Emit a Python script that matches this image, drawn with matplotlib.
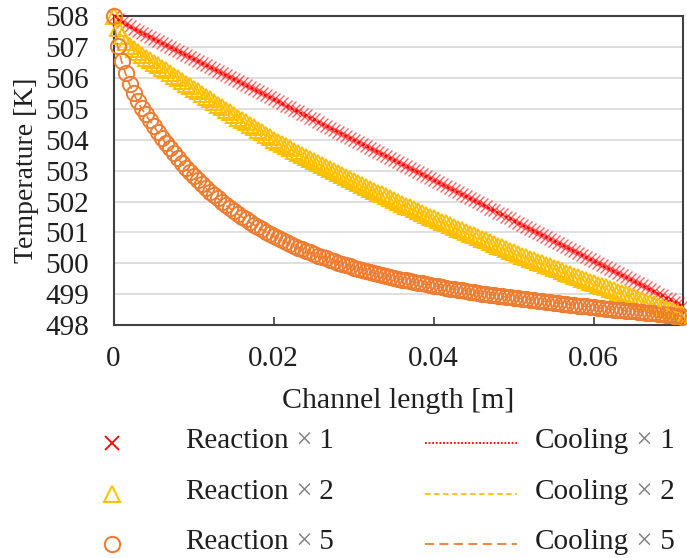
import numpy as np
import matplotlib
matplotlib.use("Agg")
import matplotlib.pyplot as plt
from matplotlib.lines import Line2D

# Axial positions along the channel [m] (uniform 0.5 mm grid, 0 .. 0.071 m)
dx = 0.0005
n_pts = 143

# Temperature profiles [K]
temp_r1 = [
    508.00, 507.90, 507.82, 507.75, 507.67, 507.60, 507.54, 507.47, 507.41, 507.34,
    507.27, 507.21, 507.14, 507.08, 507.01, 506.95, 506.88, 506.82, 506.75, 506.69,
    506.62, 506.55, 506.49, 506.42, 506.36, 506.29, 506.23, 506.16, 506.10, 506.03,
    505.97, 505.90, 505.83, 505.77, 505.70, 505.64, 505.57, 505.51, 505.44, 505.38,
    505.31, 505.25, 505.18, 505.11, 505.05, 504.98, 504.92, 504.85, 504.79, 504.72,
    504.66, 504.59, 504.52, 504.46, 504.39, 504.33, 504.26, 504.20, 504.13, 504.07,
    504.00, 503.94, 503.87, 503.80, 503.74, 503.67, 503.61, 503.54, 503.48, 503.41,
    503.35, 503.28, 503.22, 503.15, 503.08, 503.02, 502.95, 502.89, 502.82, 502.76,
    502.69, 502.63, 502.56, 502.49, 502.43, 502.36, 502.30, 502.23, 502.17, 502.10,
    502.04, 501.97, 501.91, 501.84, 501.77, 501.71, 501.64, 501.58, 501.51, 501.45,
    501.38, 501.32, 501.25, 501.18, 501.12, 501.05, 500.99, 500.92, 500.86, 500.79,
    500.73, 500.66, 500.60, 500.53, 500.46, 500.40, 500.33, 500.27, 500.20, 500.14,
    500.07, 500.01, 499.94, 499.87, 499.81, 499.74, 499.68, 499.61, 499.55, 499.48,
    499.42, 499.35, 499.29, 499.22, 499.15, 499.09, 499.02, 498.96, 498.89, 498.83,
    498.76, 498.70, 498.63,
]

temp_r2 = [
    508.00, 507.62, 507.35, 507.18, 507.05, 506.94, 506.84, 506.75, 506.66, 506.58,
    506.50, 506.42, 506.33, 506.25, 506.16, 506.08, 505.99, 505.91, 505.82, 505.74,
    505.65, 505.57, 505.48, 505.40, 505.31, 505.23, 505.14, 505.06, 504.97, 504.89,
    504.80, 504.72, 504.64, 504.56, 504.48, 504.40, 504.32, 504.24, 504.16, 504.08,
    504.00, 503.93, 503.86, 503.79, 503.72, 503.65, 503.58, 503.51, 503.44, 503.37,
    503.30, 503.24, 503.17, 503.11, 503.04, 502.98, 502.91, 502.85, 502.78, 502.72,
    502.65, 502.59, 502.53, 502.47, 502.41, 502.35, 502.29, 502.23, 502.17, 502.11,
    502.05, 501.99, 501.93, 501.87, 501.81, 501.75, 501.69, 501.63, 501.57, 501.51,
    501.45, 501.40, 501.34, 501.29, 501.23, 501.18, 501.12, 501.07, 501.01, 500.96,
    500.90, 500.85, 500.79, 500.74, 500.68, 500.63, 500.57, 500.52, 500.46, 500.41,
    500.35, 500.30, 500.25, 500.20, 500.15, 500.10, 500.05, 500.00, 499.95, 499.90,
    499.85, 499.80, 499.75, 499.70, 499.65, 499.60, 499.55, 499.50, 499.45, 499.40,
    499.35, 499.31, 499.26, 499.22, 499.17, 499.13, 499.08, 499.04, 498.99, 498.95,
    498.90, 498.85, 498.81, 498.76, 498.72, 498.67, 498.62, 498.58, 498.53, 498.49,
    498.44, 498.40, 498.35,
]

temp_r5 = [
    508.00, 507.05, 506.55, 506.15, 505.80, 505.50, 505.25, 505.02, 504.82, 504.63,
    504.45, 504.26, 504.07, 503.90, 503.72, 503.56, 503.40, 503.25, 503.10, 502.96,
    502.82, 502.69, 502.56, 502.44, 502.32, 502.21, 502.10, 502.00, 501.89, 501.79,
    501.69, 501.60, 501.51, 501.42, 501.33, 501.25, 501.17, 501.10, 501.02, 500.95,
    500.88, 500.82, 500.75, 500.69, 500.63, 500.57, 500.51, 500.46, 500.40, 500.35,
    500.30, 500.25, 500.20, 500.16, 500.11, 500.07, 500.02, 499.98, 499.94, 499.90,
    499.86, 499.83, 499.79, 499.76, 499.72, 499.69, 499.65, 499.62, 499.59, 499.56,
    499.53, 499.50, 499.47, 499.45, 499.42, 499.40, 499.37, 499.35, 499.32, 499.30,
    499.27, 499.25, 499.22, 499.20, 499.18, 499.16, 499.14, 499.12, 499.10, 499.08,
    499.06, 499.04, 499.02, 499.00, 498.98, 498.97, 498.95, 498.93, 498.91, 498.90,
    498.88, 498.87, 498.85, 498.84, 498.82, 498.81, 498.79, 498.78, 498.76, 498.75,
    498.72, 498.71, 498.69, 498.68, 498.66, 498.65, 498.63, 498.62, 498.60, 498.59,
    498.57, 498.56, 498.54, 498.53, 498.51, 498.50, 498.49, 498.48, 498.46, 498.45,
    498.44, 498.43, 498.41, 498.40, 498.39, 498.38, 498.36, 498.35, 498.32, 498.31,
    498.30, 498.29, 498.27,
]

# Coolant follows the reaction side closely in every case
cool_1 = temp_r1
cool_2 = temp_r2
cool_5 = temp_r5

x_ticks = [0, 0.02, 0.04, 0.06]
x_tick_labels = ["0", "0.02", "0.04", "0.06"]
y_ticks = [498, 499, 500, 501, 502, 503, 504, 505, 506, 507, 508]

series_labels = ["1", "2", "5"]

RED = "#FF0000"
GOLD = "#FFC000"
ORANGE = "#ED7D31"
SPINE = "#404040"
TEXT = "#1f1f1f"

plt.rcParams["font.family"] = ["Liberation Serif", "DejaVu Serif"]

W, H = 687, 558
fig = plt.figure(figsize=(W / 100, H / 100), dpi=100)
ax = fig.add_axes([113.5 / W, 1 - 325 / H, 569 / W, (325 - 16.3) / H])

x = np.arange(n_pts) * dx

# reaction markers
ax.plot(x, temp_r1, linestyle="none", marker="x", ms=9, mew=1.0,
        color=RED, alpha=0.6, clip_on=False, zorder=3)
ax.plot(x, temp_r2, linestyle="none", marker="^", ms=11, mew=1.4,
        mfc="none", mec=GOLD, clip_on=False, zorder=3)
ax.plot(x, temp_r5, linestyle="none", marker="o", ms=11, mew=1.4,
        mfc="none", mec=ORANGE, clip_on=False, zorder=3)

# coolant lines
ax.plot(x, cool_1, color=RED, lw=1.8, linestyle=(0, (1, 1)), zorder=4)
ax.plot(x, cool_2, color=GOLD, lw=1.2, linestyle=(0, (3, 2)), zorder=4)
ax.plot(x, cool_5, color=ORANGE, lw=1.2, linestyle=(0, (5, 3)), zorder=4)

ax.set_xlim(0, 0.0711)
ax.set_ylim(498, 508)
ax.set_xticks(x_ticks)
ax.set_xticklabels(x_tick_labels)
ax.set_yticks(y_ticks)
ax.yaxis.grid(True, color="#D9D9D9", lw=1.2)
ax.set_axisbelow(True)

for s in ax.spines.values():
    s.set_color(SPINE)
    s.set_linewidth(1.5)

ax.tick_params(axis="x", direction="in", length=6, width=1.2, color=SPINE,
               pad=15, labelsize=21, labelcolor=TEXT)
ax.tick_params(axis="y", length=0, pad=17.5, labelsize=21, labelcolor=TEXT)

ax.set_xlabel("Channel length [m]", fontsize=21.5, color=TEXT)
ax.xaxis.set_label_coords(0.5, -0.205)
ax.set_ylabel("Temperature [K]", fontsize=20, color=TEXT)
ax.yaxis.set_label_coords(-0.131, 0.5)

# legend, laid out in two columns below the axes
row_y = [441.0, 492.0, 542.0]
mk_styles = [
    dict(marker="x", ms=10, mew=1.3, color=RED, mfc=RED, mec=RED),
    dict(marker="^", ms=11, mew=1.5, color=GOLD, mfc="none", mec=GOLD),
    dict(marker="o", ms=11, mew=1.5, color=ORANGE, mfc="none", mec=ORANGE),
]
ln_styles = [
    dict(color=RED, lw=1.3, linestyle=(0, (1, 1))),
    dict(color=GOLD, lw=1.3, linestyle=(0, (3, 2))),
    dict(color=ORANGE, lw=1.3, linestyle=(0, (5, 3))),
]
fs_leg = 21


def fx(px):
    return px / W


def fy(py):
    return 1 - py / H


for i, yrow in enumerate(row_y):
    fig.add_artist(Line2D([fx(112)], [fy(yrow + 2)], linestyle="none",
                          transform=fig.transFigure, **mk_styles[i]))
    fig.add_artist(Line2D([fx(425), fx(517)], [fy(yrow + 2), fy(yrow + 2)],
                          transform=fig.transFigure, **ln_styles[i]))
    for x0, word in [(185, "Reaction"), (535, "Cooling")]:
        t = fig.text(fx(x0), fy(yrow), word, fontsize=fs_leg, color=TEXT,
                     ha="left", va="center")
        t_x = ax.annotate(" \u00d7", xy=(1, 0), xycoords=t, xytext=(0, 0),
                          textcoords="offset points", fontsize=fs_leg,
                          color="#808080", ha="left", va="bottom")
        ax.annotate(" " + series_labels[i], xy=(1, 0), xycoords=t_x,
                    xytext=(0, 0), textcoords="offset points",
                    fontsize=fs_leg, color=TEXT, ha="left", va="bottom")

fig.savefig("out.png", dpi=100, facecolor="white")
